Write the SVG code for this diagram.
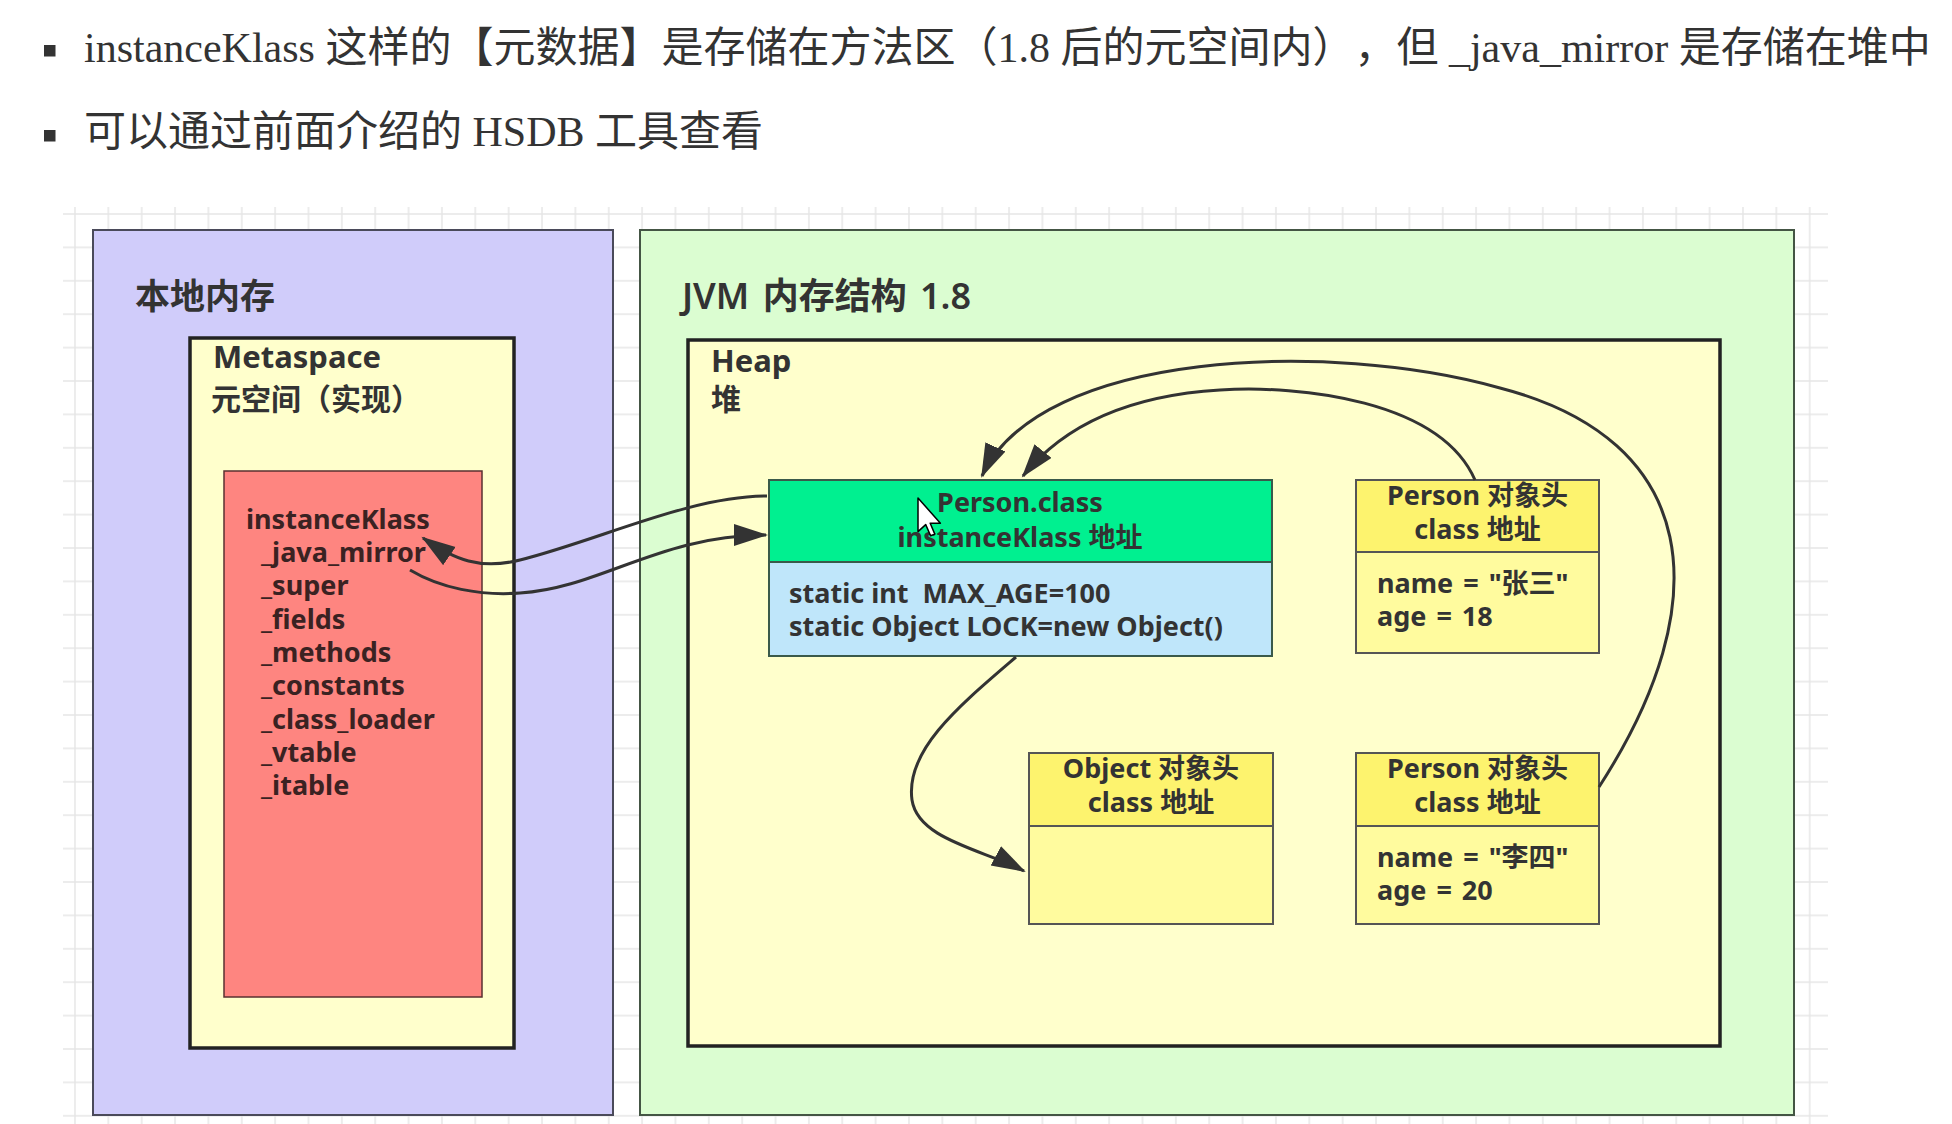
<svg xmlns="http://www.w3.org/2000/svg" width="1952" height="1124" viewBox="0 0 1952 1124">
<style>
text{text-spacing-trim:space-all}
.hdr{font-family:"Liberation Serif","Noto Sans CJK SC",serif;font-size:42px;fill:#333}
.t{font-family:"Noto Sans","Noto Sans CJK SC",sans-serif;font-weight:bold;fill:#333}
.ttl{font-size:35px;font-weight:600}
.big{font-size:31px}
.mid{font-size:30px}
.sm{font-size:27px}
.red{font-size:27px;fill:#3a2222}
.mid-c{text-anchor:middle}
.conn{fill:none;stroke:#333;stroke-width:3}
.box{stroke:#555;stroke-width:2}
</style>
<defs>
<pattern id="grid" patternUnits="userSpaceOnUse" x="58.3" y="197.3" width="33.36" height="33.4">
<path d="M16.68 0V33.4M0 16.7H33.36" stroke="#e6e6e6" stroke-width="1.5" fill="none"/>
</pattern>
<marker id="arr" markerUnits="userSpaceOnUse" markerWidth="36" markerHeight="24" refX="32" refY="11" orient="auto">
<path d="M0 0L34 11L0 22z" fill="#333"/>
</marker>
</defs>
<rect width="1952" height="1124" fill="#fff"/>
<g id="header">
<rect x="44" y="45" width="11.5" height="11.5" fill="#333"/>
<text class="hdr" x="84" y="62">instanceKlass 这样的【元数据】是存储在方法区（1.8 后的元空间内），但 _java_mirror 是存储在堆中</text>
<rect x="44" y="130" width="11.5" height="11.5" fill="#333"/>
<text class="hdr" x="84" y="146">可以通过前面介绍的 HSDB 工具查看</text>
</g>
<rect x="63" y="207" width="1765" height="917" fill="url(#grid)"/>
<g id="native-memory">
<rect x="93" y="230" width="520" height="885" fill="#d0ccfa" stroke="#4a4a5a" stroke-width="2"/>
<text class="t ttl" x="135" y="309">本地内存</text>
</g>
<g id="metaspace">
<rect x="190" y="338" width="324" height="710" fill="#ffffcc" stroke="#222" stroke-width="3.5"/>
<text class="t big" x="213" y="368">Metaspace</text>
<text class="t mid" x="211" y="410">元空间（实现）</text>
</g>
<g id="instanceKlass">
<rect x="224" y="471" width="258" height="526" fill="#fe8580" stroke="#5a3030" stroke-width="1.5"/>
<text class="t red" x="246" y="529">instanceKlass</text>
<text class="t red" x="261" y="562">_java_mirror</text>
<text class="t red" x="261" y="595">_super</text>
<text class="t red" x="261" y="629">_fields</text>
<text class="t red" x="261" y="662">_methods</text>
<text class="t red" x="261" y="695">_constants</text>
<text class="t red" x="261" y="729">_class_loader</text>
<text class="t red" x="261" y="762">_vtable</text>
<text class="t red" x="261" y="795">_itable</text>
</g>
<g id="jvm">
<rect x="640" y="230" width="1154" height="885" fill="#dbfdd1" stroke="#445544" stroke-width="2"/>
<text class="t ttl" x="682" y="309" style="font-size:36px;word-spacing:4px">JVM 内存结构 1.8</text>
</g>
<g id="heap">
<rect x="688" y="340" width="1032" height="706" fill="#ffffcc" stroke="#222" stroke-width="3.5"/>
<text class="t big" x="711" y="372">Heap</text>
<text class="t mid" x="711" y="410">堆</text>
</g>
<g id="person-class">
<rect x="769" y="480" width="503" height="82" fill="#00f090" stroke="#3a5a4a" stroke-width="2"/>
<rect x="769" y="562" width="503" height="94" fill="#bfe6fa" stroke="#3a5a4a" stroke-width="2"/>
<text class="t sm mid-c" x="1020" y="512">Person.class</text>
<text class="t sm mid-c" x="1020" y="547">instanceKlass 地址</text>
<text class="t sm" x="789" y="603" xml:space="preserve">static int  MAX_AGE=100</text>
<text class="t sm" x="789" y="636">static Object LOCK=new Object()</text>
</g>
<g id="person-zhangsan">
<rect x="1356" y="480" width="243" height="72" fill="#fdf36e" class="box"/>
<rect x="1356" y="552" width="243" height="101" fill="#fffb9e" class="box"/>
<text class="t sm mid-c" x="1477.5" y="505">Person 对象头</text>
<text class="t sm mid-c" x="1477.5" y="539">class 地址</text>
<text class="t sm" x="1377" y="593" style="word-spacing:3px">name = "张三"</text>
<text class="t sm" x="1377" y="626" style="word-spacing:3px">age = 18</text>
</g>
<g id="object-header">
<rect x="1029" y="753" width="244" height="73" fill="#fdf36e" class="box"/>
<rect x="1029" y="826" width="244" height="98" fill="#fffb9e" class="box"/>
<text class="t sm mid-c" x="1151" y="778">Object 对象头</text>
<text class="t sm mid-c" x="1151" y="812">class 地址</text>
</g>
<g id="person-lisi">
<rect x="1356" y="753" width="243" height="73" fill="#fdf36e" class="box"/>
<rect x="1356" y="826" width="243" height="98" fill="#fffb9e" class="box"/>
<text class="t sm mid-c" x="1477.5" y="778">Person 对象头</text>
<text class="t sm mid-c" x="1477.5" y="812">class 地址</text>
<text class="t sm" x="1377" y="867" style="word-spacing:3px">name = "李四"</text>
<text class="t sm" x="1377" y="900" style="word-spacing:3px">age = 20</text>
</g>
<g id="connectors">
<path class="conn" d="M767 496C690 496 600 540 520 560C480 570 455 560 423 538" marker-end="url(#arr)"/>
<path class="conn" d="M410 570C440 588 480 596 520 593C600 588 660 535 766 535" marker-end="url(#arr)"/>
<path class="conn" d="M1599 787C1720 600 1700 440 1500 388C1330 340 1040 350 982 476" marker-end="url(#arr)"/>
<path class="conn" d="M1475 480C1440 400 1300 385 1220 390C1120 396 1060 430 1023 476" marker-end="url(#arr)"/>
<path class="conn" d="M1016 657C960 705 905 750 912 800C918 840 985 850 1024 871" marker-end="url(#arr)"/>
</g>
<g id="cursor">
<polygon points="918,498 918,531.6 925.7,524.6 930.6,535.8 934.8,534.1 930.2,523.2 940.4,523.2" fill="#fff" stroke="#000" stroke-width="1.5" stroke-linejoin="round"/>
</g>
</svg>
